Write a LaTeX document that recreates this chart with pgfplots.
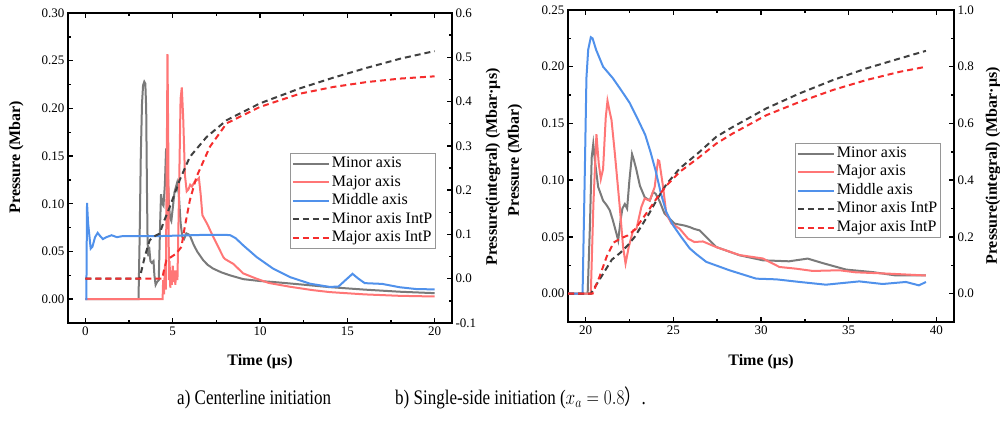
\documentclass[border=0pt]{standalone}
\usepackage{pgfplots}
\pgfplotsset{compat=1.18}
\usepackage{graphicx}
\usepackage{fontspec}
\setmainfont{Liberation Serif}
\newfontfamily\cjk{Noto Sans CJK SC}

\definecolor{cMinor}{RGB}{122,122,122}
\definecolor{cMajor}{RGB}{255,118,118}
\definecolor{cMid}{RGB}{80,145,235}
\definecolor{cMinorI}{RGB}{64,64,64}
\definecolor{cMajorI}{RGB}{245,45,45}
\definecolor{cLeg}{RGB}{150,150,150}

\pgfplotsset{
  base/.style={
    scale only axis,
    axis line style={line width=1.8pt,-},
    tick style={black, line width=1.4pt},
    major tick length=5pt, minor tick length=3pt,
    tick align=inside,
    tick label style={font=\fontsize{13}{15}\selectfont},
    label style={font=\bfseries\fontsize{16}{18}\selectfont},
    /pgf/number format/assume math mode=true,
    xticklabel={\pgfmathprintnumber{\tick}},
    yticklabel={\pgfmathprintnumber{\tick}},
  },
  sline/.style={line width=2pt, no markers},
  dline/.style={line width=2pt, no markers, dash pattern=on 6pt off 4pt},
  legbase/.style={
    legend style={draw=cLeg, line width=1pt, fill=white,
      font=\fontsize{16}{18}\selectfont, inner sep=1pt, row sep=0pt,
      nodes={inner sep=2pt, text height=11pt, text depth=3.5pt}},
    legend cell align=left,
    legend image code/.code={\draw[##1] (0pt,0pt) -- (36pt,0pt);},
  },
}

\begin{document}
\begin{tikzpicture}
\path[use as bounding box] (0pt,0pt) rectangle (1000pt,-421pt);

% ================= Panel a =================
\begin{axis}[base, at={(68pt,-323pt)}, anchor=south west, width=384pt, height=310pt,
  xmin=-1, xmax=21, ymin=-0.025, ymax=0.30,
  xtick={0,5,10,15,20}, minor x tick num=1,
  ytick={0,0.05,0.1,0.15,0.2,0.25,0.3}, minor y tick num=1,
  yticklabel style={/pgf/number format/.cd, fixed, fixed zerofill, precision=2},
  ytick pos=left, xtick pos=both,
  xlabel={Time (μs)}, ylabel={Pressure (Mbar)},
  xlabel style={at={(axis description cs:0.5,-0.125)}, anchor=center},
  ylabel style={at={(axis description cs:-0.135,0.535)}, anchor=center},
]
\addplot[sline, cMinor] coordinates {
(0,0) (3.04,0) (3.1,0.06) (3.17,0.15) (3.24,0.205) (3.3,0.224) (3.37,0.228) (3.43,0.226)
(3.48,0.2) (3.52,0.12) (3.56,0.06) (3.6,0.045) (3.65,0.055) (3.72,0.04) (3.8,0.038)
(3.9,0.04) (3.95,0.025) (4.02,0.015) (4.1,0.018) (4.2,0.02) (4.28,0.08) (4.33,0.11)
(4.4,0.1) (4.47,0.098) (4.55,0.12) (4.62,0.158) (4.7,0.14) (4.78,0.1) (4.85,0.085)
(4.92,0.082) (5.0,0.095) (5.1,0.112) (5.25,0.122) (5.35,0.11) (5.45,0.08) (5.55,0.065)
(5.65,0.063) (5.78,0.069) (5.9,0.068) (6.0,0.066) (6.2,0.057) (6.4,0.05) (6.74,0.041)
(7.0,0.036) (7.32,0.032) (7.8,0.028) (8.28,0.025) (9.04,0.021) (10,0.019) (10.76,0.018)
(12,0.016) (14,0.0126) (16,0.010) (18,0.0078) (20,0.0063)
};
\addplot[sline, cMajor] coordinates {
(0,0) (4.42,0) (4.45,0.02) (4.5,0.005) (4.55,0.035) (4.6,0.01) (4.65,0.12) (4.7,0.257)
(4.75,0.15) (4.78,0.02) (4.82,0.04) (4.86,0.012) (4.9,0.03) (4.95,0.015) (5.0,0.035)
(5.05,0.018) (5.1,0.03) (5.15,0.015) (5.2,0.03) (5.27,0.02) (5.35,0.1) (5.45,0.21)
(5.52,0.222) (5.6,0.19) (5.7,0.13) (5.8,0.113) (5.9,0.115) (6.0,0.12) (6.1,0.118)
(6.25,0.123) (6.4,0.125) (6.5,0.127) (6.6,0.11) (6.7,0.088) (6.85,0.083) (7.0,0.078)
(7.3,0.066) (7.6,0.055) (7.9,0.044) (8.0,0.042) (8.47,0.037) (9.04,0.027) (9.81,0.0214)
(10.5,0.017) (11.72,0.013) (13,0.0095) (14,0.0074) (16,0.005) (18,0.0035) (20,0.0028)
};
\addplot[sline, cMid] coordinates {
(0,0) (0.05,0) (0.09,0.101) (0.15,0.08) (0.3,0.053) (0.4,0.055) (0.55,0.065) (0.7,0.0695)
(0.85,0.066) (1.0,0.063) (1.2,0.065) (1.5,0.067) (1.8,0.065) (2.1,0.066) (2.5,0.066)
(3,0.066) (4,0.066) (5,0.0665) (6,0.067) (7,0.0675) (8,0.0675) (8.3,0.067) (8.6,0.064)
(9.04,0.0564) (9.81,0.0441) (10.76,0.0319) (11.72,0.0231) (12.87,0.0162) (14.0,0.0128)
(14.5,0.0133) (14.9,0.02) (15.3,0.0266) (15.6,0.022) (16,0.0168) (17,0.016) (18,0.0125)
(19,0.0105) (20,0.0103)
};
\end{axis}

\begin{axis}[base, legbase, at={(68pt,-323pt)}, anchor=south west, width=384pt, height=310pt,
  xmin=-1, xmax=21, ymin=-0.1, ymax=0.6,
  axis x line=none, axis y line*=right,
  ytick={-0.1,0,0.1,0.2,0.3,0.4,0.5,0.6}, minor y tick num=1,
  yticklabel style={/pgf/number format/.cd, fixed, fixed zerofill, precision=1},
  ylabel={Pressure(integral) (Mbar·μs)},
  ylabel style={at={(axis description cs:1.107,0.503)}, anchor=center},
  legend style={at={(axis description cs:0.958,0.548)}, anchor=north east},
]
\addlegendimage{sline, cMinor}\addlegendentry{Minor axis}
\addlegendimage{sline, cMajor}\addlegendentry{Major axis}
\addlegendimage{sline, cMid}\addlegendentry{Middle axis}
\addplot[dline, cMinorI] coordinates {
(0,0) (3.1,0) (3.4,0.05) (3.68,0.087) (4.0,0.097) (4.25,0.102) (4.5,0.13) (4.83,0.162)
(5.4,0.223) (5.98,0.275) (6.94,0.32) (8.09,0.358) (10.0,0.396) (12.3,0.43) (14.2,0.454)
(16.1,0.476) (18.05,0.497) (20,0.514)
};
\addlegendentry{Minor axis IntP}
\addplot[dline, cMajorI] coordinates {
(0,0) (4.4,0) (4.5,0.02) (4.64,0.042) (5.21,0.057) (5.5,0.072) (5.69,0.117) (5.98,0.177)
(6.36,0.23) (7.13,0.298) (8.09,0.351) (10.0,0.388) (12.3,0.418) (14.2,0.433) (16.1,0.444)
(18.05,0.452) (20,0.457)
};
\addlegendentry{Major axis IntP}
\end{axis}

% ================= Panel b =================
\begin{axis}[base, at={(568pt,-322pt)}, anchor=south west, width=386pt, height=312pt,
  xmin=19, xmax=41, ymin=-0.025, ymax=0.25,
  xtick={20,25,30,35,40}, minor x tick num=1,
  ytick={0,0.05,0.1,0.15,0.2,0.25}, minor y tick num=1,
  yticklabel style={/pgf/number format/.cd, fixed, fixed zerofill, precision=2},
  ytick pos=left, xtick pos=both,
  xlabel={Time (μs)}, ylabel={Pressure (Mbar)},
  xlabel style={at={(axis description cs:0.5,-0.128)}, anchor=center},
  ylabel style={at={(axis description cs:-0.137,0.519)}, anchor=center},
]
\addplot[sline, cMinor] coordinates {
(19,0) (20.12,0) (20.25,0.06) (20.35,0.12) (20.44,0.132) (20.55,0.115) (20.72,0.094)
(21.0,0.082) (21.2,0.078) (21.38,0.0735) (21.55,0.065) (21.76,0.053) (21.86,0.047)
(22.0,0.065) (22.1,0.075) (22.24,0.079) (22.37,0.075) (22.5,0.1) (22.65,0.123)
(22.75,0.118) (22.9,0.109) (23.1,0.095) (23.37,0.085) (23.66,0.082) (23.85,0.0896)
(24.0,0.088) (24.23,0.081) (24.5,0.0706) (25.08,0.0617) (25.65,0.060) (25.93,0.0587)
(26.2,0.057) (26.5,0.0558) (27.0,0.048) (27.45,0.0411) (28.78,0.0338) (30.1,0.0294)
(31.6,0.0285) (32.66,0.0309) (33.5,0.027) (34.85,0.0212) (36.36,0.019) (37.7,0.016)
(39.4,0.016)
};
\addplot[sline, cMajor] coordinates {
(19,0) (20.3,0) (20.45,0.08) (20.62,0.1405) (20.75,0.115) (20.87,0.101) (21.0,0.11)
(21.15,0.155) (21.25,0.170) (21.38,0.16) (21.48,0.153) (21.67,0.1235) (21.95,0.0764)
(22.14,0.041) (22.28,0.0265) (22.46,0.041) (22.71,0.0558) (22.9,0.057) (23.18,0.0764)
(23.37,0.0838) (23.66,0.082) (23.94,0.094) (24.13,0.1176) (24.2,0.117) (24.42,0.094)
(24.6,0.0706) (24.9,0.0617) (25.36,0.0573) (25.84,0.0485) (26.2,0.0455) (26.69,0.046)
(27.45,0.041) (28.78,0.034) (30.1,0.031) (30.48,0.028) (31.05,0.0235) (32.0,0.022)
(32.95,0.020) (34.47,0.0206) (35.4,0.0188) (37.3,0.0176) (39.4,0.016)
};
\addplot[sline, cMid] coordinates {
(19,0) (19.83,0) (19.95,0.1) (20.05,0.19) (20.15,0.215) (20.3,0.226) (20.4,0.225)
(20.6,0.215) (21.0,0.2) (21.55,0.19) (22.0,0.18) (22.52,0.168) (23.0,0.153) (23.4,0.14)
(23.7,0.125) (24.0,0.108) (24.3,0.088) (24.6,0.072) (25.0,0.06) (25.45,0.05) (25.93,0.04)
(26.3,0.035) (26.88,0.028) (28.2,0.0206) (29.73,0.0132) (30.87,0.0126) (32.2,0.0103)
(33.7,0.0079) (35.6,0.0108) (36.93,0.0085) (38.26,0.0103) (39.0,0.0073) (39.4,0.0103)
};
\end{axis}

\begin{axis}[base, legbase, at={(568pt,-322pt)}, anchor=south west, width=386pt, height=312pt,
  xmin=19, xmax=41, ymin=-0.1, ymax=1.0,
  axis x line=none, axis y line*=right,
  ytick={0,0.2,0.4,0.6,0.8,1.0}, minor y tick num=1,
  yticklabel style={/pgf/number format/.cd, fixed, fixed zerofill, precision=1},
  ylabel={Pressure(integral) (Mbar·μs)},
  ylabel style={at={(axis description cs:1.101,0.5)}, anchor=center},
  legend style={at={(axis description cs:0.966,0.574)}, anchor=north east},
]
\addlegendimage{sline, cMinor}\addlegendentry{Minor axis}
\addlegendimage{sline, cMajor}\addlegendentry{Major axis}
\addlegendimage{sline, cMid}\addlegendentry{Middle axis}
\addplot[dline, cMinorI] coordinates {
(19,0) (20.3,0) (20.8,0.05) (21.5,0.12) (22.0,0.145) (22.4,0.17) (22.8,0.2) (23.2,0.24)
(23.6,0.28) (24.1,0.335) (24.6,0.385) (25.36,0.441) (26.5,0.5) (27.45,0.553) (28.4,0.588)
(30.3,0.653) (32.2,0.706) (34.1,0.753) (36.0,0.794) (37.9,0.829) (39.4,0.856)
};
\addlegendentry{Minor axis IntP}
\addplot[dline, cMajorI] coordinates {
(19,0) (20.4,0) (20.8,0.06) (21.2,0.13) (21.6,0.18) (22.0,0.195) (22.4,0.205) (22.8,0.225)
(23.2,0.26) (23.6,0.295) (24.1,0.34) (24.6,0.38) (25.36,0.429) (26.5,0.482) (27.45,0.529)
(28.4,0.565) (30.3,0.629) (32.2,0.676) (34.1,0.718) (36.0,0.753) (37.9,0.782) (39.4,0.80)
};
\addlegendentry{Major axis IntP}
\end{axis}

% captions
\node[anchor=base west, inner sep=0pt, font=\fontsize{17}{19}\selectfont] at (177pt,-404pt) {\scalebox{1}[1.22]{a) Centerline initiation}};
\node[anchor=base west, inner sep=0pt, font=\fontsize{17}{19}\selectfont] at (395pt,-404pt) {\scalebox{1}[1.22]{b) Single-side initiation ($x_a = 0.8${\cjk ）}.}};
\end{tikzpicture}
\end{document}
